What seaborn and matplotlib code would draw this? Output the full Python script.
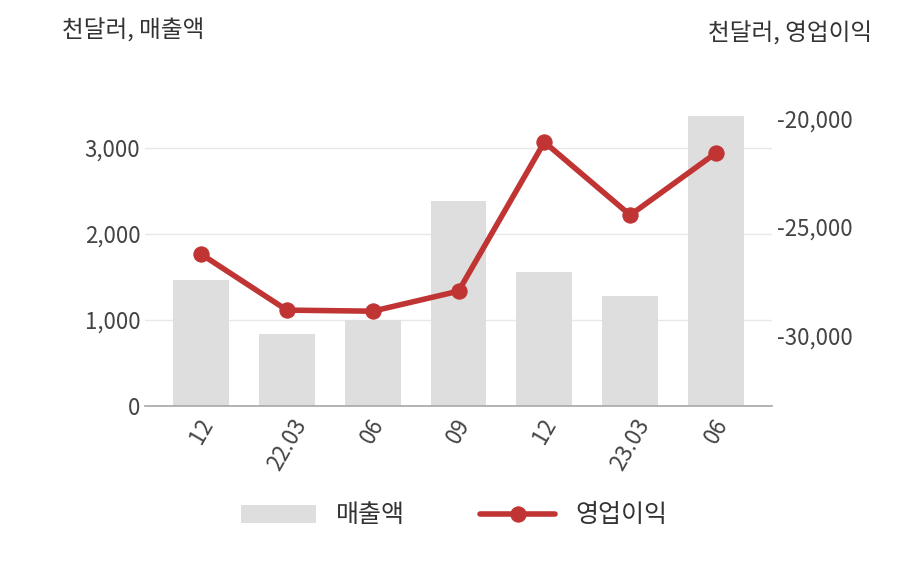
import matplotlib
matplotlib.use("Agg")
import matplotlib.pyplot as plt
import pandas as pd
import seaborn as sns

# 데이터
periods = ["12", "22.03", "06", "09", "12", "23.03", "06"]
sales = [1460, 840, 1000, 2380, 1560, 1280, 3370]
op_income = [-26240, -28810, -28860, -27940, -21100, -24450, -21600]

df = pd.DataFrame({"pos": range(len(periods)), "sales": sales, "op": op_income})

sns.set_theme(style="white", font="Noto Sans CJK KR")
fig = plt.figure(figsize=(9.08, 5.8), dpi=100)
ax = fig.add_axes([0.16, 0.30, 0.69, 0.536])
ax2 = ax.twinx()

sns.barplot(x="pos", y="sales", data=df, color="#dedede", width=0.65,
            edgecolor="none", ax=ax, label="매출액", zorder=2)
sns.lineplot(x="pos", y="op", data=df, color="#c03434", linewidth=4,
             marker="o", markersize=11, markeredgecolor="#c03434",
             ax=ax2, label="영업이익")

ax.set_ylim(0, 3616)
ax2.set_ylim(-33210, -18945)
ax.set_xlim(-0.65, 6.65)
ax.set_yticks([0, 1000, 2000, 3000])
ax.set_yticklabels(["0", "1,000", "2,000", "3,000"])
ax2.set_yticks([-30000, -25000, -20000])
ax2.set_yticklabels(["-30,000", "-25,000", "-20,000"])
ax.set_xticks(range(len(periods)))
ax.set_xticklabels(periods, rotation=60)
ax.grid(axis="y", color="#e8e8e8", linewidth=1, zorder=0)
ax.set_axisbelow(True)

for a in (ax, ax2):
    a.set_xlabel("")
    a.set_ylabel("")
    for s in ("top", "left", "right"):
        a.spines[s].set_visible(False)
    a.tick_params(colors="#444444", labelsize=16, length=0)
ax.spines["bottom"].set_visible(False)
ax2.spines["bottom"].set_color("#aaaaaa")
ax.tick_params(axis="x", pad=6)

fig.text(0.068, 0.935, "천달러, 매출액", fontsize=17, color="#333333", ha="left")
fig.text(0.96, 0.93, "천달러, 영업이익", fontsize=17, color="#333333", ha="right")

h1, l1 = ax.get_legend_handles_labels()
h2, l2 = ax2.get_legend_handles_labels()
for a in (ax, ax2):
    if a.get_legend():
        a.get_legend().remove()
fig.legend(h1 + h2, l1 + l2, loc="lower center", bbox_to_anchor=(0.5, 0.05),
           ncol=2, frameon=False, fontsize=18, handlelength=3, columnspacing=3,
           labelcolor="#333333")

fig.savefig("out.png", dpi=100)
